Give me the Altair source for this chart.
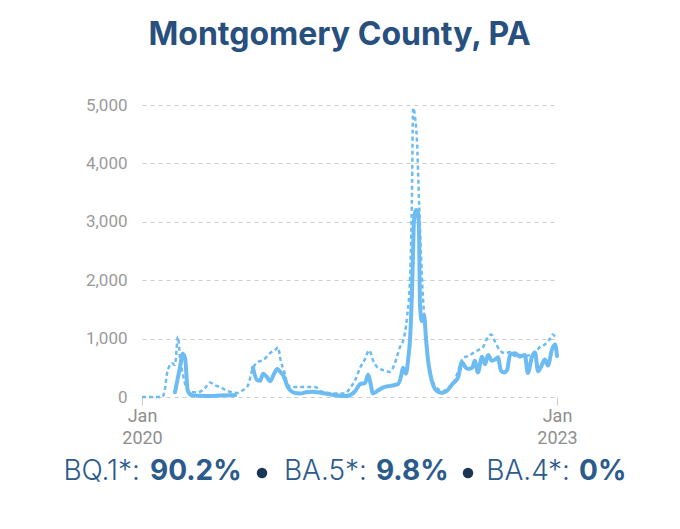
import altair as alt
import pandas as pd

# ---- data (days since 2020-01-01, wastewater level) ----
solid_days_1 = [87, 100, 108, 114, 121, 132, 153, 180, 206, 232, 246]
solid_vals_1 = [80, 500, 740, 650, 100, 30, 20, 15, 25, 30, 30]

solid_days_2 = [293, 304, 312, 320, 330, 338, 349, 357, 364, 372, 386, 399, 417, 433,
                449, 465, 475, 491, 510, 536, 549, 563, 576, 589, 597, 602, 610, 623,
                636, 655, 676, 684, 689, 697, 703, 708, 713, 716, 718, 724, 729, 732,
                734, 739, 745, 750, 755, 761, 769, 779, 792, 806, 821, 835, 845, 853,
                861, 872, 879, 887, 898, 906, 914, 924, 932, 940, 948, 956, 964, 972,
                985, 998, 1011, 1019, 1030, 1038, 1046, 1054, 1064, 1072, 1083, 1091, 1096]
solid_vals_2 = [500, 290, 280, 400, 340, 270, 400, 480, 440, 380, 160, 80, 60, 80,
                90, 80, 70, 50, 30, 15, 30, 100, 220, 240, 380, 280, 60, 110,
                160, 190, 220, 350, 500, 400, 650, 1000, 1800, 2500, 3000, 3200, 3150, 2700,
                1600, 1300, 1400, 1000, 650, 400, 200, 100, 70, 110, 230, 340, 600, 520,
                480, 500, 620, 420, 690, 560, 720, 620, 640, 680, 450, 420, 460, 720,
                750, 690, 720, 410, 690, 760, 440, 520, 640, 540, 820, 900, 700]

dashed_days = [0, 53, 61, 66, 79, 87, 95, 100, 111, 121, 140, 153, 166, 180, 193, 206,
               227, 251, 267, 280, 291, 306, 320, 338, 354, 359, 367, 375, 386, 404,
               430, 457, 475, 510, 536, 549, 563, 576, 589, 600, 610, 623, 642, 655,
               668, 681, 689, 700, 708, 713, 716, 721, 726, 732, 737, 742, 747, 755,
               766, 779, 795, 813, 827, 840, 848, 861, 874, 887, 901, 911, 922, 932,
               945, 959, 972, 985, 998, 1011, 1025, 1038, 1051, 1064, 1078, 1085, 1093]
dashed_vals = [0, 0, 150, 400, 580, 550, 1030, 700, 300, 120, 80, 90, 150, 250, 200, 170,
               100, 70, 120, 200, 460, 600, 630, 750, 820, 850, 600, 450, 200, 170,
               170, 170, 90, 60, 60, 150, 290, 500, 650, 800, 630, 500, 450, 430,
               580, 850, 950, 1370, 2050, 3500, 4950, 4800, 4400, 3300, 2400, 1700, 1270, 700,
               300, 150, 100, 180, 300, 550, 670, 700, 750, 800, 860, 1000, 1070, 950,
               800, 750, 770, 700, 720, 700, 720, 750, 860, 900, 1000, 1070, 1000]

lineages = ["BQ.1*", "BA.5*", "BA.4*"]
shares = ["90.2%", "9.8%", "0%"]
title_text = "Montgomery County, PA"

# ---- build tables ----
base_date = pd.Timestamp("2020-01-01")
solid = pd.concat([
    pd.DataFrame({"date": base_date + pd.to_timedelta(solid_days_1, unit="D"),
                  "value": solid_vals_1, "seg": 1}),
    pd.DataFrame({"date": base_date + pd.to_timedelta(solid_days_2, unit="D"),
                  "value": solid_vals_2, "seg": 2}),
])
dashed = pd.DataFrame({"date": base_date + pd.to_timedelta(dashed_days, unit="D"),
                       "value": dashed_vals})

LINE = "#6dbbf3"
W, H = 415, 292
FONT = "Roboto"
LFONT = "Inter"

x_enc = alt.X("date:T", title=None,
              scale=alt.Scale(domain=[alt.DateTime(year=2020, month=1, date=1),
                                      alt.DateTime(year=2023, month=1, date=1)]),
              axis=alt.Axis(values=[alt.DateTime(year=2020, month=1, date=1),
                                    alt.DateTime(year=2023, month=1, date=1)],
                            labelExpr="[timeFormat(datum.value, '%b'), timeFormat(datum.value, '%Y')]",
                            domain=False, grid=False, ticks=True, tickSize=8,
                            tickColor="#cfcfcf", tickWidth=1,
                            labelFontSize=18, labelColor="#8e8e8e", labelFont=FONT,
                            labelPadding=2, labelLineHeight=22, labelFlush=False))
y_enc = alt.Y("value:Q", title=None,
              scale=alt.Scale(domain=[0, 5000], nice=False),
              axis=alt.Axis(values=[0, 1000, 2000, 3000, 4000, 5000], format=",.0f",
                            domain=False, ticks=False, grid=True,
                            gridDash=[4, 4], gridColor="#cccccc", gridWidth=1,
                            labelFontSize=17, labelColor="#9a9a9a", labelFont=FONT,
                            labelPadding=15))

dashed_line = alt.Chart(dashed).mark_line(
    color=LINE, strokeWidth=2.5, strokeDash=[4, 3], interpolate="monotone"
).encode(x=x_enc, y=y_enc)

solid_line = alt.Chart(solid).mark_line(
    color=LINE, strokeWidth=4, strokeCap="round", strokeJoin="round",
    interpolate="monotone"
).encode(x=alt.X("date:T"), y=alt.Y("value:Q"), detail="seg:N")

# ---- bottom legend ----
legend_df = pd.DataFrame({"lineage": lineages, "share": shares})
TXT = "#2b5a8c"
LEG_Y = 367
label_right = [140, 367, 570]
share_left = [150, 376, 579]
dot_x = [262, 468]
layers = [dashed_line, solid_line]
for i in range(len(lineages)):
    row = legend_df.iloc[[i]]
    layers.append(alt.Chart(row).mark_text(
        align="right", baseline="middle", fontSize=28, font=LFONT, color=TXT,
        fontWeight=300
    ).encode(text=alt.Text("lbl:N"), x=alt.value(label_right[i] - 142), y=alt.value(LEG_Y)
    ).transform_calculate(lbl="datum.lineage + ':'"))
    layers.append(alt.Chart(row).mark_text(
        align="left", baseline="middle", fontSize=28, font=LFONT, color=TXT, fontWeight="bold"
    ).encode(text=alt.Text("share:N"), x=alt.value(share_left[i] - 142), y=alt.value(LEG_Y)))
for dx in dot_x:
    layers.append(alt.Chart(legend_df.iloc[[0]]).mark_circle(
        size=110, color="#1b3556", opacity=1
    ).encode(x=alt.value(dx - 142), y=alt.value(LEG_Y + 1)))

chart = alt.layer(*layers).properties(
    width=W, height=H,
    title=alt.TitleParams(title_text, fontSize=32, font="Inter", fontWeight="bold",
                          color="#27507e", anchor="middle", frame="group",
                          offset=44, dx=-10),
    autosize="none",
    padding={"left": 142, "top": 105, "right": 123, "bottom": 132},
).configure(background="white").configure_view(stroke=None)

chart.save("out.html", embed_options={"renderer": "svg", "actions": False})
